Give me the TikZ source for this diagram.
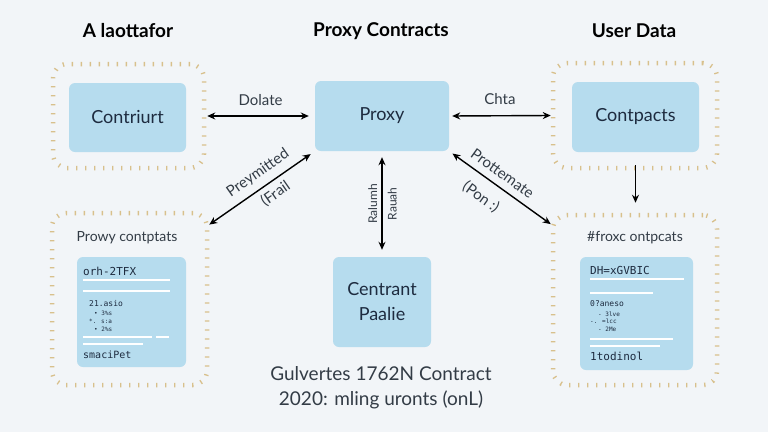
\documentclass[tikz,border=0pt]{standalone}
\usepackage{fontspec}
\setmainfont{Lato}
\newfontfamily\panelfont{DejaVu Sans Mono}
\usepackage{tikz}
\usetikzlibrary{arrows.meta, positioning, calc}
\definecolor{paper}{HTML}{F2F5F8}
\definecolor{cellblue}{HTML}{B6DCEE}
\definecolor{inkblue}{HTML}{1D2B3F}
\definecolor{dotgold}{HTML}{D8C08C}
\definecolor{labelgray}{HTML}{333C46}

\tikzset{
  cell/.style={fill=cellblue, rounded corners=6pt, text=inkblue, inner sep=0pt,
    align=center, font=\fontsize{18}{25}\selectfont},
  dotframe/.style={draw=dotgold, line width=4.5pt, dash pattern=on 1.3pt off 7.7pt,
    rounded corners=14pt, inner sep=0pt},
  heading/.style={font=\fontsize{19}{22}\selectfont\bfseries, text=black},
  link/.style={<->, line width=1.4pt, black},
  tag/.style={font=\fontsize{15}{17}\selectfont, text=labelgray, inner sep=0pt},
  bar/.style={white, line width=2.4pt},
  code/.style={anchor=west, inner sep=0pt, text=inkblue},
}

\begin{document}
\begin{tikzpicture}[x=1pt, y=-1pt, >={Stealth[length=8pt,width=7pt]}]

\useasboundingbox[fill=paper] (0,0) rectangle (768,432);

% headings
\node[heading] (hleft) at (128,31) {A laottafor};
\node[heading] (hmid) at (381,31) {Proxy Contracts};
\node[heading] (hright) at (634,31) {User Data};

% dotted frames
\node[dotframe, minimum width=151pt, minimum height=104pt] (framea) at (128.5,116) {};
\node[dotframe, minimum width=164pt, minimum height=105pt] (framec) at (635,115.5) {};
\node[dotframe, minimum width=155pt, minimum height=172pt] (frameb) at (129.5,299) {};
\node[dotframe, minimum width=164pt, minimum height=170pt] (framed) at (635,300) {};

% blue cells
\node[cell, minimum width=117pt, minimum height=69pt] (contriurt) at (127.5,117.5) {Contriurt};
\node[cell, minimum width=134pt, minimum height=70pt] (proxy) at (382,116) {Proxy};
\node[cell, minimum width=127pt, minimum height=70pt] (contpacts) at (635.5,117) {Contpacts};
\node[cell, minimum width=98pt, minimum height=90pt] (centrant) at (382,302) {Centrant\\Paalie};

% connectors
\draw[link, shorten <=1pt, shorten >=6pt] (framea.east) -- node[tag, above=10pt]{Dolate} (proxy.west);
\draw[link, shorten <=3pt] (proxy.east) -- node[tag, above=10pt]{Chta} (framec.west);
\draw[link, shorten >=5pt] (frameb.43) -- node[tag, sloped, above=7pt, pos=0.54]{Preymitted}
  node[tag, sloped, below=5pt, pos=0.56]{(Frail} (proxy.south west);
\draw[link, shorten <=4pt] (proxy.south east) -- node[tag, sloped, above=7pt, pos=0.45]{Prottemate}
  node[tag, sloped, below=11pt, pos=0.42]{(Pon :)} (framed.138);
\draw[link, shorten <=7pt, shorten >=6pt] (centrant.north) -- node[tag, sloped, above=4pt, font=\fontsize{12}{14}\selectfont]{Ralumh}
  node[tag, sloped, below=5pt, font=\fontsize{12}{14}\selectfont]{Rauah} (proxy.south);
\draw[->, line width=1.4pt, shorten <=13pt, shorten >=10pt] (contpacts.south) -- (contpacts.south |- framed.north);

% left panel
\node[tag, font=\fontsize{14}{16}\selectfont] (ltitle) at (127,238) {Prowy contptats};
\node[cell, minimum width=109pt, minimum height=110pt] (lpanel) at (131.5,312) {};
\node[code, font=\panelfont\fontsize{11}{12}\selectfont] (lcode) at (83,271) {orh-2TFX};
\draw[bar] (83,280) -- (170,280);
\draw[bar] (83,291) -- (170,291);
\node[code, font=\panelfont\fontsize{8}{9}\selectfont] (lsub) at (89,304) {21.asio};
\node[code, font=\panelfont\fontsize{6}{7}\selectfont] (lsa) at (94,313) {• 3\%s};
\node[code, font=\panelfont\fontsize{6}{7}\selectfont] (lsb) at (89,321) {*. s:a};
\node[code, font=\panelfont\fontsize{6}{7}\selectfont] (lsc) at (94,329) {• 2\%s};
\draw[bar] (83,337) -- (152,337);
\draw[bar] (156,337) -- (169,337);
\draw[bar] (83,344) -- (143,344);
\node[code, font=\panelfont\fontsize{10}{11}\selectfont] (lfoot) at (83,355) {smaciPet};

% right panel
\node[tag, font=\fontsize{14}{16}\selectfont] (rtitle) at (635,238) {\#froxc ontpcats};
\node[cell, minimum width=113pt, minimum height=113pt] (rpanel) at (636.5,313.5) {};
\node[code, font=\panelfont\fontsize{11}{12}\selectfont] (rcode) at (590,270) {DH=xGVBIC};
\draw[bar] (590,279) -- (684,279);
\draw[bar] (590,293) -- (653,293);
\node[code, font=\panelfont\fontsize{8}{9}\selectfont] (rsub) at (590,304) {0?aneso};
\node[code, font=\panelfont\fontsize{6}{7}\selectfont] (rsa) at (598,314) {- 3lve};
\node[code, font=\panelfont\fontsize{6}{7}\selectfont] (rsb) at (590,321) {-. =lcc};
\node[code, font=\panelfont\fontsize{6}{7}\selectfont] (rsc) at (598,329) {- 2Me};
\draw[bar] (590,339) -- (673,339);
\draw[bar] (590,346) -- (660,346);
\node[code, font=\panelfont\fontsize{11}{12}\selectfont] (rfoot) at (590,356) {1todinol};

% caption
\node[font=\fontsize{19}{25}\selectfont, text=labelgray, align=center] (caption) at (381,388)
  {Gulvertes 1762N Contract\\2020: mling uronts (onL)};

\end{tikzpicture}
\end{document}
